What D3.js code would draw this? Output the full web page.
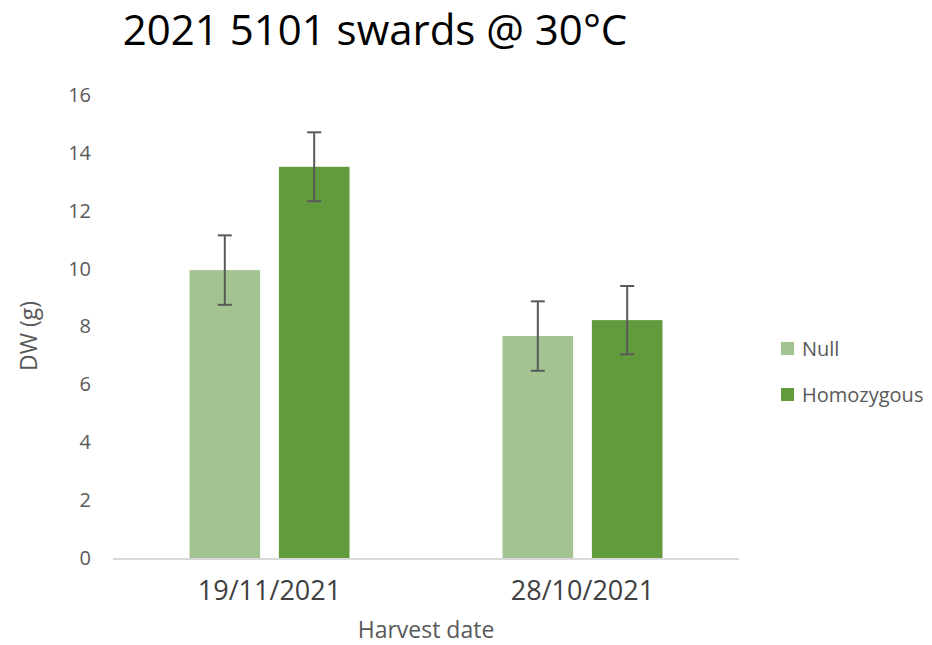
<!DOCTYPE html>
<html>
<head>
  <meta charset="utf-8">
  <title>2021 5101 swards @ 30°C</title>
  <style>
    body { margin: 0; background: #fff; }
    text { font-family: "Open Sans", "Noto Sans", sans-serif; }
  </style>
</head>
<body>
  <svg width="932" height="645"></svg>
  <script src="https://d3js.org/d3.v7.min.js"></script>
  <script>
  // data
  var dates = ['19/11/2021', '28/10/2021'];
  var series = ['Null', 'Homozygous'];
  var nullValues = [9.95, 7.67];
  var nullErrors = [1.2, 1.2];
  var homoValues = [13.52, 8.22];
  var homoErrors = [1.19, 1.18];
  var yTicks = [0, 2, 4, 6, 8, 10, 12, 14, 16];

  var colors = { 'Null': '#a3c491', 'Homozygous': '#629a3e' };
  var rows = [];
  dates.forEach(function(d, i) {
    rows.push({ date: d, name: 'Null', value: nullValues[i], err: nullErrors[i] });
    rows.push({ date: d, name: 'Homozygous', value: homoValues[i], err: homoErrors[i] });
  });

  var svg = d3.select('svg');
  var plotLeft = 113, plotRight = 739, plotTop = 95, plotBottom = 558;
  var groupWidth = 160;

  var x = d3.scaleBand().domain(dates).range([plotLeft, plotRight]);
  var xs = d3.scaleBand().domain(series).range([0, groupWidth]).paddingInner(0.21);
  var xOffset = (x.bandwidth() - groupWidth) / 2;
  var y = d3.scaleLinear().domain([0, 16]).range([plotBottom, plotTop]);

  // title
  svg.append('text')
    .attr('x', 375).attr('y', 45)
    .attr('text-anchor', 'middle')
    .style('font-size', '42px')
    .style('fill', '#000')
    .text('2021 5101 swards @ 30°C');

  // y axis
  var yAxis = svg.append('g')
    .attr('transform', 'translate(' + plotLeft + ',0)')
    .call(d3.axisLeft(y).tickValues(yTicks).tickSize(0).tickPadding(22));
  yAxis.select('.domain').remove();
  yAxis.selectAll('text').style('font-size', '20px').style('fill', '#595959');

  // bars
  var g = svg.selectAll('.bar')
    .data(rows)
    .enter()
    .append('g')
    .attr('class', 'bar')
    .attr('transform', function(d) { return 'translate(' + (x(d.date) + xOffset + xs(d.name)) + ',0)'; });

  g.append('rect')
    .attr('y', function(d) { return y(d.value); })
    .attr('width', xs.bandwidth())
    .attr('height', function(d) { return y(0) - y(d.value); })
    .style('fill', function(d) { return colors[d.name]; });

  var cx = xs.bandwidth() / 2;
  g.append('line')
    .attr('x1', cx).attr('x2', cx)
    .attr('y1', function(d) { return y(d.value + d.err); })
    .attr('y2', function(d) { return y(d.value - d.err); })
    .style('stroke', '#595959').style('stroke-width', 2);
  [1, -1].forEach(function(s) {
    g.append('line')
      .attr('x1', cx - 7).attr('x2', cx + 7)
      .attr('y1', function(d) { return y(d.value + s * d.err); })
      .attr('y2', function(d) { return y(d.value + s * d.err); })
      .style('stroke', '#595959').style('stroke-width', 2);
  });

  // x axis
  var xAxis = svg.append('g')
    .attr('transform', 'translate(0,' + plotBottom + ')')
    .call(d3.axisBottom(x).tickSize(0).tickPadding(23));
  xAxis.select('.domain').attr('d', 'M' + plotLeft + ',1H' + plotRight).style('stroke', '#d9d9d9').style('stroke-width', 2);
  xAxis.selectAll('text').style('font-size', '27px').style('fill', '#404040');

  // axis titles
  svg.append('text')
    .attr('x', 426).attr('y', 638)
    .attr('text-anchor', 'middle')
    .style('font-size', '23px').style('fill', '#595959')
    .text('Harvest date');
  svg.append('text')
    .attr('transform', 'translate(37,336) rotate(-90)')
    .attr('text-anchor', 'middle')
    .style('font-size', '23px').style('fill', '#595959')
    .text('DW (g)');

  // legend
  var lg = svg.selectAll('.legend')
    .data(series)
    .enter()
    .append('g')
    .attr('class', 'legend')
    .attr('transform', function(d, i) { return 'translate(781,' + (342 + i * 46) + ')'; });
  lg.append('rect').attr('width', 13).attr('height', 13).style('fill', function(d) { return colors[d]; });
  lg.append('text')
    .attr('x', 21).attr('y', 14)
    .style('font-size', '20px').style('fill', '#595959')
    .text(function(d) { return d; });
  </script>
</body>
</html>
